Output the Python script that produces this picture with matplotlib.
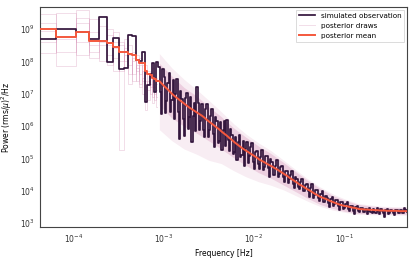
import numpy as np
import matplotlib
matplotlib.use('Agg')
import matplotlib.pyplot as plt
from matplotlib.ticker import NullFormatter

# frequency grid: lowest Fourier frequency ~4.3e-5 Hz up to Nyquist 0.5 Hz
F1 = 10 ** -4.37
F_NYQ = 0.5

# first 20 Fourier bins, read one by one (log10 power)
obs_lo = [8.69, 9.00, 8.92, 8.70, 9.36, 7.99, 8.71, 7.75, 7.80, 8.81,
          8.78, 8.05, 8.02, 8.30, 6.75, 7.27, 7.60, 7.95, 7.05, 7.98]
mean_lo = [9.00, 8.76, 8.90, 8.64, 8.62, 8.58, 8.45, 8.30, 8.28, 8.22,
           8.20, 8.05, 7.95, 7.95, 7.70, 7.62, 7.58, 7.50, 7.45, 7.40]
draws_lo = [
    [9.45, 8.30, 9.60, 8.50, 9.10, 8.20, 8.90, 5.25, 8.40, 7.90, 8.30, 7.70, 8.10, 7.40, 7.90, 7.60, 7.20, 7.80, 7.00, 7.50],
    [8.25, 9.50, 8.20, 9.30, 8.60, 8.80, 7.70, 8.60, 7.80, 8.50, 7.60, 8.20, 7.30, 7.90, 7.20, 7.70, 7.50, 6.90, 7.40, 7.10],
    [8.95, 7.85, 9.20, 8.90, 8.00, 9.00, 8.40, 8.00, 8.70, 7.60, 8.00, 7.40, 7.90, 7.00, 7.60, 6.80, 7.60, 7.20, 7.30, 6.60],
    [9.20, 9.00, 8.60, 8.30, 9.40, 7.90, 8.10, 8.50, 8.00, 8.20, 7.40, 7.90, 7.60, 7.70, 6.50, 7.40, 7.00, 7.40, 6.80, 7.30],
    [8.60, 8.70, 9.35, 8.10, 8.50, 8.50, 8.60, 7.70, 8.20, 7.30, 8.10, 7.80, 7.20, 7.50, 7.40, 7.10, 7.30, 6.70, 7.20, 6.90],
]

# simulated observation above bin 20, read at 199 log-spaced positions (log10 power)
obs_hi = [7.84, 7.05, 6.36, 7.77, 7.53, 6.40, 6.76, 7.32, 7.63, 6.44,
          6.80, 7.42, 6.23, 7.00, 7.47, 6.44, 5.61, 7.08, 6.85, 6.22,
          5.69, 6.86, 7.03, 5.90, 6.27, 6.90, 5.52, 6.30, 6.72, 5.85,
          7.22, 6.70, 5.87, 6.15, 6.67, 5.89, 5.66, 6.53, 6.69, 5.66,
          5.88, 6.30, 6.52, 5.74, 5.36, 6.28, 6.15, 5.47, 5.54, 6.11,
          5.27, 5.89, 6.16, 5.38, 6.20, 5.57, 5.23, 5.90, 5.72, 5.14,
          5.20, 5.67, 4.94, 5.51, 5.73, 5.05, 5.12, 5.55, 4.77, 5.30,
          5.52, 4.85, 5.07, 5.35, 5.47, 4.90, 4.67, 5.20, 5.22, 4.84,
          4.66, 5.04, 5.27, 4.65, 4.73, 5.06, 5.08, 4.71, 4.44, 4.97,
          4.90, 4.48, 4.50, 4.78, 4.96, 4.44, 4.51, 4.74, 4.76, 4.44,
          4.26, 4.61, 4.61, 4.23, 4.35, 4.48, 4.60, 4.21, 4.10, 4.43,
          4.35, 4.12, 4.04, 4.27, 4.35, 3.98, 4.00, 4.18, 4.20, 3.98,
          3.81, 4.09, 4.21, 3.79, 3.86, 4.01, 4.02, 3.77, 3.67, 3.91,
          3.99, 3.66, 3.66, 3.83, 3.78, 3.61, 3.49, 3.73, 3.81, 3.53,
          3.58, 3.70, 3.70, 3.54, 3.42, 3.66, 3.65, 3.44, 3.48, 3.59,
          3.64, 3.43, 3.38, 3.53, 3.53, 3.38, 3.27, 3.51, 3.53, 3.38,
          3.33, 3.47, 3.48, 3.33, 3.34, 3.45, 3.27, 3.37, 3.46, 3.33,
          3.31, 3.45, 3.35, 3.30, 3.46, 3.38, 3.27, 3.43, 3.36, 3.31,
          3.19, 3.41, 3.43, 3.28, 3.30, 3.42, 3.36, 3.32, 3.26, 3.40,
          3.41, 3.30, 3.30, 3.40, 3.32, 3.30, 3.47, 3.39, 3.33]

# posterior mean above bin 20, 100 log-spaced positions (log10 power)
mean_hi = [7.39, 7.31, 7.23, 7.16, 7.08, 7.00, 6.93, 6.87, 6.81, 6.75,
           6.69, 6.63, 6.57, 6.52, 6.47, 6.42, 6.37, 6.32, 6.26, 6.19,
           6.13, 6.07, 6.01, 5.95, 5.89, 5.82, 5.76, 5.70, 5.63, 5.57,
           5.50, 5.44, 5.38, 5.32, 5.27, 5.22, 5.17, 5.12, 5.07, 5.02,
           4.96, 4.92, 4.88, 4.83, 4.79, 4.75, 4.70, 4.66, 4.61, 4.56,
           4.51, 4.46, 4.40, 4.35, 4.30, 4.25, 4.19, 4.15, 4.10, 4.05,
           4.01, 3.96, 3.91, 3.87, 3.82, 3.79, 3.76, 3.73, 3.69, 3.66,
           3.63, 3.60, 3.57, 3.55, 3.53, 3.52, 3.50, 3.48, 3.47, 3.45,
           3.43, 3.43, 3.42, 3.42, 3.41, 3.41, 3.40, 3.40, 3.39, 3.39,
           3.39, 3.38, 3.38, 3.38, 3.38, 3.38, 3.37, 3.37, 3.37, 3.37]

# spread of the posterior draws at high frequency, 21 log-spaced positions
draw_core_hi = [7.94, 7.55, 7.19, 6.93, 6.59, 6.29, 5.94, 5.65, 5.38, 5.15, 4.88,
                4.59, 4.31, 4.06, 3.85, 3.70, 3.58, 3.53, 3.49, 3.48, 3.47]
draw_core_lo = [6.64, 6.25, 5.99, 5.78, 5.54, 5.29, 5.02, 4.78, 4.56, 4.39, 4.18,
                3.97, 3.76, 3.57, 3.45, 3.36, 3.30, 3.29, 3.28, 3.28, 3.27]
draw_wide_hi = [8.24, 7.80, 7.44, 7.13, 6.79, 6.44, 6.07, 5.75, 5.48, 5.24, 4.95,
                4.65, 4.36, 4.11, 3.90, 3.74, 3.61, 3.56, 3.52, 3.51, 3.50]
draw_wide_lo = [5.89, 5.55, 5.29, 5.13, 4.94, 4.84, 4.62, 4.43, 4.28, 4.17, 4.03,
                3.85, 3.67, 3.51, 3.40, 3.33, 3.27, 3.26, 3.25, 3.25, 3.24]

freq_lo = F1 * np.arange(1, len(obs_lo) + 1)
f_start = F1 * (len(obs_lo) + 1)
freq_obs_hi = np.geomspace(f_start, F_NYQ, len(obs_hi))
freq_mean_hi = np.geomspace(f_start, F_NYQ, len(mean_hi))
freq_band = np.geomspace(f_start, F_NYQ, len(draw_core_hi))

c_obs = '#33163d'
c_draw = '#d58fb5'
c_mean = '#f4583d'

plt.rcParams['font.family'] = 'DejaVu Sans'
plt.rcParams['font.size'] = 5.5

fig = plt.figure(figsize=(4.15, 2.6), dpi=100)
ax = fig.add_axes([0.0964, 0.127, 0.885, 0.846])

ax.fill_between(freq_band, 10 ** np.array(draw_wide_lo), 10 ** np.array(draw_wide_hi),
                color=c_draw, alpha=0.16, lw=0)
ax.fill_between(freq_band, 10 ** np.array(draw_core_lo), 10 ** np.array(draw_core_hi),
                color=c_draw, alpha=0.32, lw=0)
for i, d in enumerate(draws_lo):
    ax.plot(freq_lo, 10 ** np.array(d), drawstyle='steps-mid', color=c_draw,
            alpha=0.3, lw=0.7, label='posterior draws' if i == 0 else None)

ax.plot(np.r_[freq_lo, freq_obs_hi], 10 ** np.array(obs_lo + obs_hi),
        drawstyle='steps-mid', color=c_obs, lw=1.25,
        label='simulated observation', zorder=3)
ax.plot(freq_lo, 10 ** np.array(mean_lo), drawstyle='steps-mid', color=c_mean, lw=1.4,
        label='posterior mean', zorder=4)
ax.plot(np.r_[freq_lo[-1], freq_mean_hi], 10 ** np.array(mean_lo[-1:] + mean_hi),
        color=c_mean, lw=1.4, zorder=4)

ax.set_xscale('log')
ax.set_yscale('log')
ax.set_xlim(F1, F_NYQ)
ax.set_ylim(10 ** 2.88, 10 ** 9.68)
ax.set_xticks([1e-4, 1e-3, 1e-2, 1e-1])
ax.set_yticks([10.0 ** p for p in range(3, 10)])
ax.xaxis.set_minor_formatter(NullFormatter())
ax.yaxis.set_minor_formatter(NullFormatter())
ax.tick_params(which='both', length=0, pad=4, labelsize=5.5, colors='#333333')
for s in ax.spines.values():
    s.set_color('#444444')
    s.set_linewidth(0.8)

ax.set_xlabel('Frequency [Hz]', fontsize=5.5, labelpad=3)
ax.set_ylabel(r'Power (rms/$\mu$)$^2$/Hz', fontsize=5.5, labelpad=4)

h, l = ax.get_legend_handles_labels()
order = [l.index('simulated observation'), l.index('posterior draws'), l.index('posterior mean')]
leg = ax.legend([h[i] for i in order], [l[i] for i in order], loc='upper right',
                fontsize=5.2, frameon=True, fancybox=False, borderaxespad=0.4,
                handlelength=2.2, labelspacing=0.55)
leg.get_frame().set_edgecolor('#cccccc')
leg.get_frame().set_linewidth(0.6)

fig.savefig('out.png', dpi=100)
